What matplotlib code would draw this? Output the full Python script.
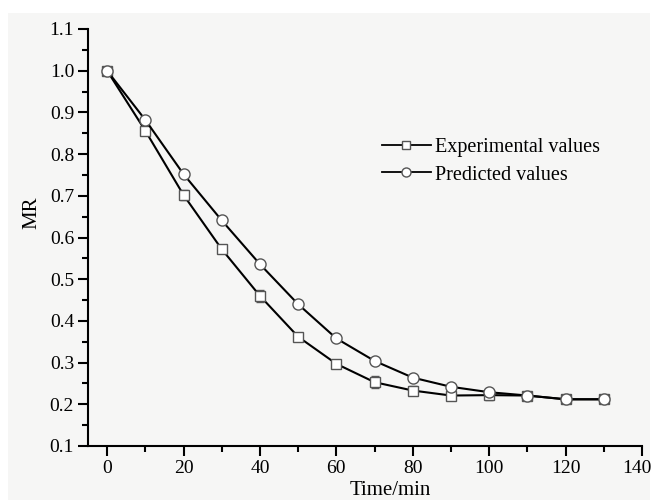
import matplotlib
matplotlib.use("Agg")
import matplotlib.pyplot as plt
from matplotlib.patches import Rectangle
from matplotlib.lines import Line2D
from matplotlib.ticker import MultipleLocator
from matplotlib.transforms import ScaledTranslation

time_min = [0, 10, 20, 30, 40, 50, 60, 70, 80, 90, 100, 110, 120, 130]
mr_experimental = [1.0, 0.856, 0.702, 0.572, 0.46, 0.362, 0.297, 0.253, 0.233, 0.221, 0.222, 0.221, 0.212, 0.212]
mr_error = [0.0, 0.008, 0.012, 0.005, 0.015, 0.004, 0.004, 0.015, 0.01, 0.01, 0.012, 0.008, 0.006, 0.006]
mr_predicted = [1.0, 0.882, 0.752, 0.641, 0.536, 0.44, 0.358, 0.304, 0.264, 0.242, 0.229, 0.221, 0.212, 0.212]

x_ticks = [0, 20, 40, 60, 80, 100, 120, 140]
y_ticks = [0.1, 0.2, 0.3, 0.4, 0.5, 0.6, 0.7, 0.8, 0.9, 1.0, 1.1]
labels = ['Experimental values', 'Predicted values']

plt.rcParams['font.family'] = ['Liberation Serif', 'DejaVu Serif']

fig = plt.figure(figsize=(6.54, 5.0), dpi=100, facecolor='white')
fig.patches.append(Rectangle((8/654, 0), (650-8)/654, 1 - 13/500, transform=fig.transFigure,
                             facecolor='#f6f6f5', edgecolor='none', zorder=-10))
ax = fig.add_axes([88/654, 1 - 446/500, (642-88)/654, (446-29)/500])
ax.set_facecolor('none')

mcol = '#555555'
ax.errorbar(time_min, mr_experimental, yerr=mr_error, color='black', lw=1.5,
            marker='s', ms=7, mfc='white', mec=mcol, mew=1.0,
            ecolor=mcol, elinewidth=1.0, capsize=3, capthick=1.0, zorder=3)
ax.plot(time_min, mr_predicted, color='black', lw=1.5,
        marker='o', ms=8, mfc='white', mec=mcol, mew=1.0, zorder=4)

ax.set_xlim(-5, 140)
ax.set_ylim(0.1, 1.1)
ax.set_xticks(x_ticks)
ax.set_yticks(y_ticks)
ax.set_yticklabels([f"{v:.1f}" for v in y_ticks])
ax.xaxis.set_minor_locator(MultipleLocator(10))
ax.yaxis.set_minor_locator(MultipleLocator(0.05))
for s in ['top', 'right']:
    ax.spines[s].set_visible(False)
for s in ['left', 'bottom']:
    ax.spines[s].set_linewidth(1.5)
ax.tick_params(which='major', direction='out', length=7, width=1.5, labelsize=14, colors='black', pad=3)
ax.tick_params(which='minor', direction='out', length=4, width=1.5)

# keep the last x tick label inside the canvas
last = ax.get_xticklabels()[-1]
last.set_transform(last.get_transform() + ScaledTranslation(-5/100, 0, fig.dpi_scale_trans))

ax.set_xlabel('Time/min', fontsize=15, labelpad=-1)
ax.xaxis.set_label_coords(0.545, -0.085)
ax.set_ylabel('MR', fontsize=15)
ax.yaxis.set_label_coords(-0.085, 0.56)

handles = [
    Line2D([], [], color='black', lw=1.3, marker='s', ms=5.5, mfc='white', mec=mcol, mew=1.0),
    Line2D([], [], color='black', lw=1.3, marker='o', ms=6.5, mfc='white', mec=mcol, mew=1.0),
]
ax.legend(handles, labels, loc='upper left', bbox_to_anchor=(0.531, 0.738), frameon=False,
          fontsize=14.5, handlelength=2.4, handletextpad=0.2, labelspacing=0.4,
          borderpad=0, borderaxespad=0)

fig.savefig('out.png', dpi=100, facecolor=fig.get_facecolor())
